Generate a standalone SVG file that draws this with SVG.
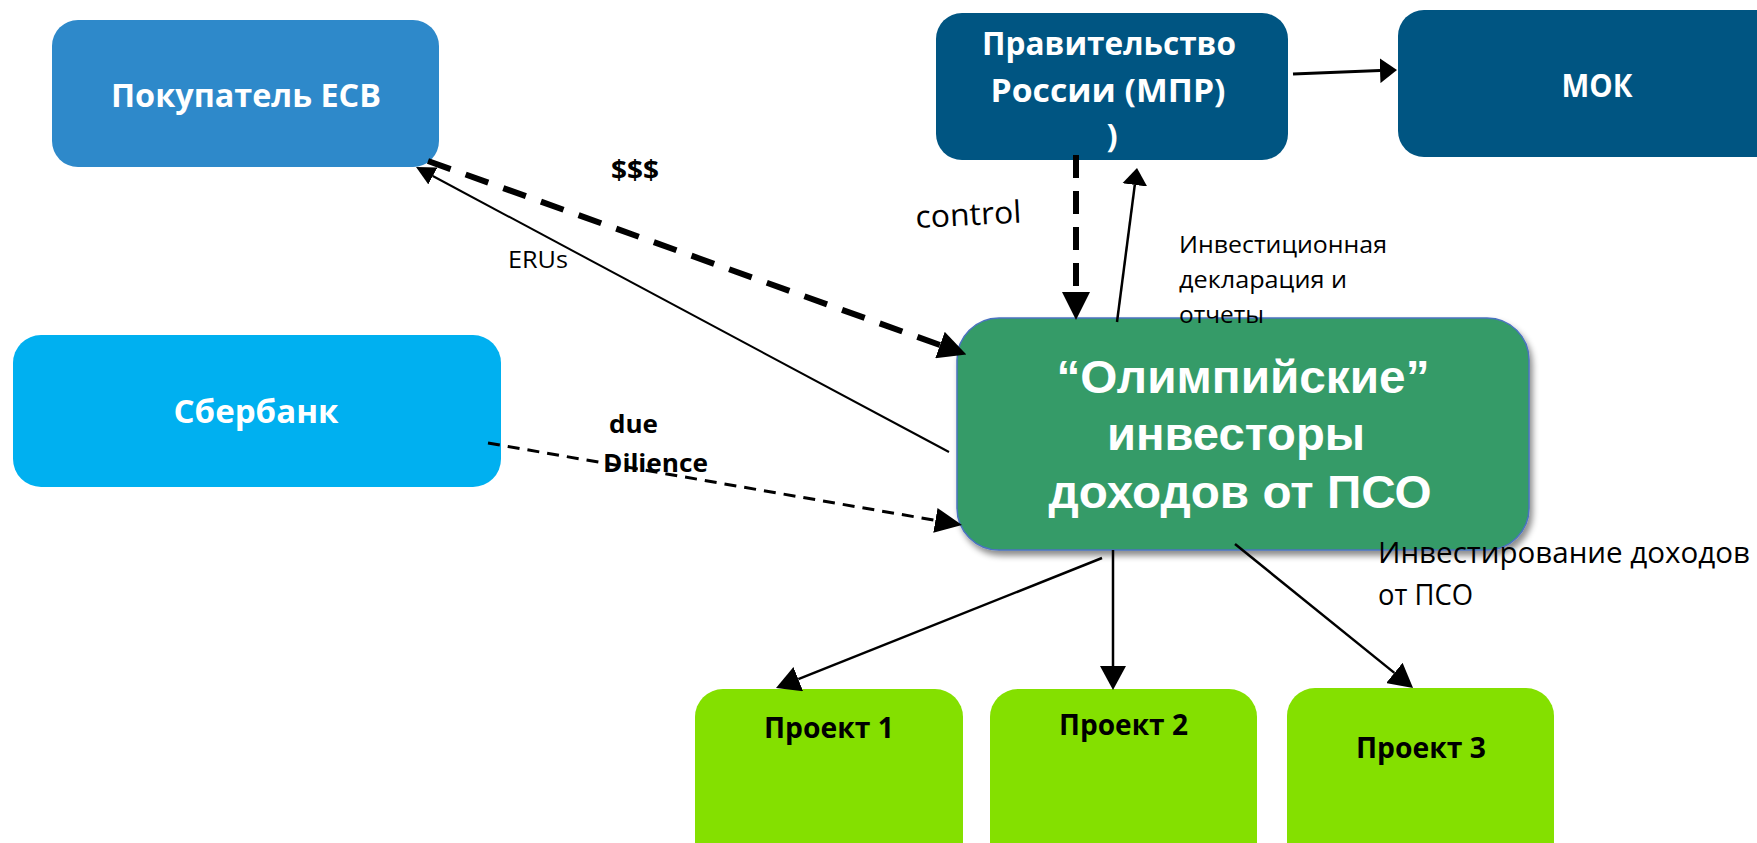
<svg xmlns="http://www.w3.org/2000/svg" width="1757" height="843" viewBox="0 0 1757 843">
<style>
.bt{font-family:"Open Sans","Noto Sans","DejaVu Sans",sans-serif;font-weight:bold;fill:#fff;text-anchor:middle}
.gt{font-family:"Liberation Sans",Arial,sans-serif;font-weight:bold;fill:#fff;text-anchor:middle;font-size:46px}
.pt{font-family:"Open Sans","Noto Sans","DejaVu Sans",sans-serif;font-weight:bold;fill:#000;text-anchor:middle;font-size:28px}
.lb{font-family:"Open Sans","Noto Sans","DejaVu Sans",sans-serif;fill:#000}
.ln{fill:none;stroke:#000}
</style>
<defs>
<marker id="hBig" viewBox="0 0 10 10" refX="0" refY="5" markerWidth="28" markerHeight="28" orient="auto" markerUnits="userSpaceOnUse" preserveAspectRatio="none"><path d="M0,0 L10,5 L0,10 z" fill="#000"/></marker>
<marker id="hMid" viewBox="0 0 10 10" refX="0" refY="5" markerWidth="27" markerHeight="25" orient="auto" markerUnits="userSpaceOnUse" preserveAspectRatio="none"><path d="M0,0 L10,5 L0,10 z" fill="#000"/></marker>
<marker id="hSm" viewBox="0 0 10 10" refX="0" refY="5" markerWidth="19" markerHeight="19" orient="auto" markerUnits="userSpaceOnUse" preserveAspectRatio="none"><path d="M0,0 L10,5 L0,10 z" fill="#000"/></marker>
<marker id="hWide" viewBox="0 0 10 10" refX="0" refY="5" markerWidth="17" markerHeight="25" orient="auto" markerUnits="userSpaceOnUse" preserveAspectRatio="none"><path d="M0,0 L10,5 L0,10 z" fill="#000"/></marker>
<marker id="hPr" viewBox="0 0 10 10" refX="0" refY="5" markerWidth="24" markerHeight="26" orient="auto" markerUnits="userSpaceOnUse" preserveAspectRatio="none"><path d="M0,0 L10,5 L0,10 z" fill="#000"/></marker>
<filter id="sh" x="-10%" y="-10%" width="125%" height="130%"><feDropShadow dx="3" dy="5" stdDeviation="3" flood-color="#000" flood-opacity="0.45"/></filter>
</defs>

<g id="buyer">
<rect x="52" y="20" width="387" height="147" rx="26" fill="#2E89CA"/>
<text class="bt" x="246" y="107" font-size="33" textLength="270" lengthAdjust="spacingAndGlyphs">Покупатель ЕСВ</text>
</g>
<g id="sberbank">
<rect x="13" y="335" width="488" height="152" rx="28" fill="#00B0F0"/>
<text class="bt" x="256" y="423" font-size="33" textLength="165" lengthAdjust="spacingAndGlyphs">Сбербанк</text>
</g>
<g id="government">
<rect x="936" y="13" width="352" height="147" rx="26" fill="#005582"/>
<text class="bt" x="1109" y="55" font-size="33" textLength="254" lengthAdjust="spacingAndGlyphs">Правительство</text>
<text class="bt" x="1108" y="102" font-size="33" textLength="235" lengthAdjust="spacingAndGlyphs">России (МПР)</text>
<text class="bt" x="1112" y="147" font-size="33">)</text>
</g>
<g id="mok">
<rect x="1398" y="10" width="390" height="147" rx="26" fill="#005582"/>
<text class="bt" x="1597" y="97" font-size="33" textLength="71" lengthAdjust="spacingAndGlyphs">МОК</text>
</g>
<g id="investors">
<rect x="957" y="318" width="572" height="232" rx="42" fill="#359B68" stroke="#4A72C0" stroke-width="1.5" filter="url(#sh)"/>
<text class="gt" x="1243" y="393" textLength="373" lengthAdjust="spacingAndGlyphs">“Олимпийские”</text>
<text class="gt" x="1236" y="450" textLength="258" lengthAdjust="spacingAndGlyphs">инвесторы</text>
<text class="gt" x="1240" y="508" textLength="383" lengthAdjust="spacingAndGlyphs">доходов от ПСО</text>
</g>
<g id="project1">
<rect x="695" y="689" width="268" height="200" rx="28" fill="#84E000"/>
<text class="pt" x="829" y="738" textLength="130" lengthAdjust="spacingAndGlyphs">Проект 1</text>
</g>
<g id="project2">
<rect x="990" y="689" width="267" height="200" rx="28" fill="#84E000"/>
<text class="pt" x="1123.5" y="735" textLength="129" lengthAdjust="spacingAndGlyphs">Проект 2</text>
</g>
<g id="project3">
<rect x="1287" y="688" width="267" height="200" rx="28" fill="#84E000"/>
<text class="pt" x="1421" y="758" textLength="130" lengthAdjust="spacingAndGlyphs">Проект 3</text>
</g>

<g id="connectors">
<line class="ln" x1="428" y1="161" x2="940" y2="345" stroke-width="6" stroke-dasharray="24 16" marker-end="url(#hBig)"/>
<line class="ln" x1="949" y1="452" x2="432.8" y2="176" stroke-width="2" marker-end="url(#hSm)"/>
<line class="ln" x1="1076" y1="155" x2="1076" y2="292" stroke-width="6" stroke-dasharray="23 13" marker-end="url(#hBig)"/>
<line class="ln" x1="1117" y1="322" x2="1134.8" y2="184.9" stroke-width="2.5" marker-end="url(#hWide)"/>
<line class="ln" x1="1293" y1="74" x2="1380" y2="70.6" stroke-width="3" marker-end="url(#hWide)"/>
<line class="ln" x1="488" y1="443" x2="935.4" y2="520.4" stroke-width="3" stroke-dasharray="12 8" marker-end="url(#hMid)"/>
<line class="ln" x1="1102" y1="558" x2="798.3" y2="679.1" stroke-width="2.5" marker-end="url(#hPr)"/>
<line class="ln" x1="1113" y1="550" x2="1113" y2="666" stroke-width="2.5" marker-end="url(#hPr)"/>
<line class="ln" x1="1235" y1="544" x2="1394.4" y2="672.9" stroke-width="2.5" marker-end="url(#hPr)"/>
</g>

<g id="labels">
<text class="lb" x="611" y="180" font-size="26" font-weight="bold" textLength="48" lengthAdjust="spacingAndGlyphs">$$$</text>
<text class="lb" x="508" y="268" font-size="23" textLength="60" lengthAdjust="spacingAndGlyphs">ERUs</text>
<text class="lb" x="916" y="228" font-size="31" transform="rotate(-3 916 228)" textLength="106" lengthAdjust="spacingAndGlyphs">control</text>
<text class="lb" x="1179" y="253" font-size="24" textLength="208" lengthAdjust="spacingAndGlyphs">Инвестиционная</text>
<text class="lb" x="1179" y="288" font-size="24" textLength="168" lengthAdjust="spacingAndGlyphs">декларация и</text>
<text class="lb" x="1179" y="323" font-size="24" textLength="85" lengthAdjust="spacingAndGlyphs">отчеты</text>
<text class="lb" x="609" y="433" font-size="25" font-weight="bold" textLength="49" lengthAdjust="spacingAndGlyphs">due</text>
<text class="lb" x="603" y="472" font-size="25" font-weight="bold" textLength="105" lengthAdjust="spacingAndGlyphs">Dilience</text>
<text class="lb" x="1378" y="563" font-size="29" textLength="372" lengthAdjust="spacingAndGlyphs">Инвестирование доходов</text>
<text class="lb" x="1378" y="605" font-size="29" textLength="95" lengthAdjust="spacingAndGlyphs">от ПСО</text>
</g>
</svg>
